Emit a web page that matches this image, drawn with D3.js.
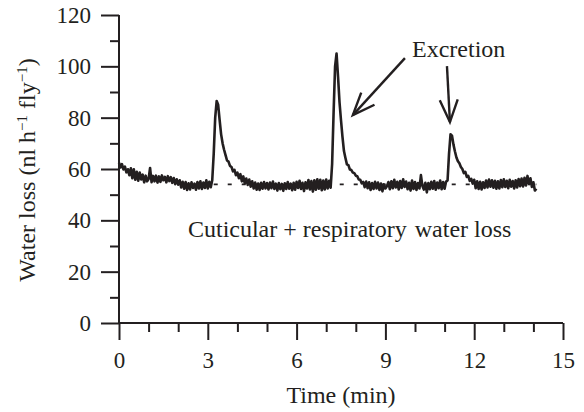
<!DOCTYPE html>
<html>
<head>
<meta charset="utf-8">
<script src="https://cdn.jsdelivr.net/npm/d3@7"></script>
<style>
  html, body { margin: 0; padding: 0; background: #fff; }
  svg { display: block; font-family: "Liberation Serif", "Times New Roman", serif; }
</style>
</head>
<body>
<svg id="chart" width="584" height="412"></svg>
<script>
// ---- data ----
const sampleStart = 0;      // min
const sampleStep = 0.05;    // min between samples
const waterLoss = [
  62.5,60.6,61.9,59.8,60.9,58.7,59.9,57.6,60.3,56.4,59.9,55.8,58.9,55.4,58.6,55.9,57.8,54.8,57.4,55.2,
  56.1,60.4,54.9,57.3,55.2,57.4,54.7,57.1,55.0,57.5,55.6,56.9,54.8,57.2,55.3,56.8,54.6,56.5,54.1,56.0,
  53.9,55.6,52.8,55.0,52.3,54.9,51.8,54.4,52.0,54.8,52.6,54.3,51.9,54.9,52.4,55.2,52.2,54.7,52.6,55.6,
  52.4,55.0,52.9,55.6,66.0,80.0,86.5,85.0,79.0,73.5,70.0,67.5,65.4,63.3,62.9,61.2,60.8,59.1,59.7,57.6,
  58.6,56.4,58.0,55.2,57.1,54.4,56.3,53.8,55.9,53.1,55.2,52.4,54.7,51.9,54.3,51.8,54.6,52.3,54.9,52.4,
  54.5,52.0,54.7,52.5,55.1,52.2,54.3,51.6,54.5,52.1,54.2,51.5,54.4,52.2,54.9,52.3,54.3,51.7,54.6,51.9,
  55.0,52.6,55.4,52.2,54.6,51.4,54.8,52.4,55.7,52.0,55.3,51.2,55.6,51.9,56.0,52.3,55.8,51.7,55.5,52.0,
  55.9,52.4,55.4,52.7,62.0,82.0,100.0,105.0,96.0,86.0,79.0,72.5,67.0,64.3,61.8,61.5,59.8,59.6,58.6,58.4,
  57.4,57.2,55.9,55.8,54.4,55.0,52.9,55.1,52.5,54.8,51.8,54.5,52.2,55.0,52.4,54.7,51.8,54.3,51.3,54.0,
  52.4,53.3,54.9,52.1,55.2,52.5,55.8,52.8,55.0,52.0,55.3,52.6,56.0,53.0,55.1,52.1,54.6,51.6,55.5,52.2,
  54.9,51.8,54.5,52.4,57.6,53.4,52.0,54.6,50.9,54.5,52.1,55.0,52.3,55.3,51.9,54.7,52.5,55.5,52.1,54.9,
  52.3,55.1,55.5,66.0,73.5,73.0,69.5,66.8,64.5,63.0,62.2,60.8,60.0,58.4,58.9,56.9,57.3,55.4,56.2,54.3,
  55.8,52.5,55.2,52.2,55.0,52.0,54.8,52.6,55.5,52.8,55.9,53.1,55.6,52.7,55.4,52.3,55.2,52.4,55.7,52.9,
  56.0,53.0,55.4,52.5,55.8,53.1,55.3,52.4,55.6,52.8,56.1,53.3,56.3,53.2,56.6,53.6,57.3,54.1,56.4,53.0,
  54.8,51.6,52.3
];
const baselineLevel = 54;          // dashed cuticular + respiratory level
const baselineRange = [3.2, 14.1]; // min
const xMajorTicks = [0, 3, 6, 9, 12, 15];
const xMinorTicks = [1, 2, 4, 5, 7, 8, 10, 11, 13, 14];
const yMajorTicks = [0, 20, 40, 60, 80, 100, 120];
const yMinorTicks = [10, 30, 50, 70, 90, 110];
const xTitle = "Time (min)";
const annotationText = "Excretion";
const baselineTextParts = ["Cuticular + respiratory", "water loss"];
// arrows: [tail time, tail value, tip time, tip value]
const arrows = [
  [9.66, 103.2, 7.90, 81.0],
  [11.08, 100.1, 11.18, 78.3]
];
const annotationPos = [9.9, 103.6];
const baselineTextPos = [2.33, 33.5];

// ---- layout ----
const ink = "#231f20";
const svg = d3.select("#chart");
const x = d3.scaleLinear().domain([0, 15]).range([119, 563]);
const y = d3.scaleLinear().domain([0, 120]).range([323, 15]);

const trace = waterLoss.map((v, i) => [sampleStart + i * sampleStep, v]);

// dashed baseline
svg.append("line")
  .attr("x1", x(baselineRange[0])).attr("x2", x(baselineRange[1]))
  .attr("y1", y(baselineLevel)).attr("y2", y(baselineLevel))
  .attr("stroke", ink).attr("stroke-width", 1.6)
  .attr("stroke-dasharray", "4,10");

// trace
svg.append("path")
  .datum(trace)
  .attr("d", d3.line().x(d => x(d[0])).y(d => y(d[1])))
  .attr("fill", "none").attr("stroke", ink)
  .attr("stroke-width", 2.6).attr("stroke-linejoin", "round");

// axes
function styleAxis(g) {
  g.select(".domain").remove();
  g.selectAll(".tick line").attr("stroke", ink).attr("stroke-width", 2);
  g.selectAll(".tick text").attr("fill", ink).style("font-size", "23px")
    .style("font-family", "'Liberation Serif', 'Times New Roman', serif");
}
svg.append("g").attr("transform", `translate(0,${y(0)})`)
  .call(d3.axisBottom(x).tickValues(xMinorTicks).tickSize(9).tickFormat(""))
  .call(styleAxis);
svg.append("g").attr("transform", `translate(0,${y(0)})`)
  .call(d3.axisBottom(x).tickValues(xMajorTicks).tickSize(17).tickPadding(12).tickFormat(d3.format("d")))
  .call(styleAxis);
svg.append("g").attr("transform", `translate(${x(0)},0)`)
  .call(d3.axisLeft(y).tickValues(yMinorTicks).tickSize(9).tickFormat(""))
  .call(styleAxis);
svg.append("g").attr("transform", `translate(${x(0)},0)`)
  .call(d3.axisLeft(y).tickValues(yMajorTicks).tickSize(18).tickPadding(10).tickFormat(d3.format("d")))
  .call(styleAxis);

// axis lines
svg.append("line").attr("x1", x(0)).attr("x2", x(15)).attr("y1", y(0)).attr("y2", y(0))
  .attr("stroke", ink).attr("stroke-width", 2);
svg.append("line").attr("x1", x(0)).attr("x2", x(0)).attr("y1", y(0)).attr("y2", y(120))
  .attr("stroke", ink).attr("stroke-width", 2);

// axis titles
svg.append("text").attr("x", (x(0) + x(15)) / 2).attr("y", 403)
  .attr("text-anchor", "middle").attr("fill", ink).style("font-size", "24px")
  .text(xTitle);

const yt = svg.append("text")
  .attr("transform", `translate(35,${(y(0) + y(120)) / 2 + 1}) rotate(-90)`)
  .attr("text-anchor", "middle").attr("fill", ink).style("font-size", "24px");
yt.append("tspan").text("Water loss (nl h");
yt.append("tspan").attr("dy", -8).style("font-size", "15px").text("\u22121");
yt.append("tspan").attr("dy", 8).text(" fly");
yt.append("tspan").attr("dy", -8).style("font-size", "15px").text("\u22121");
yt.append("tspan").attr("dy", 8).text(")");

// annotations
svg.append("text").attr("x", x(annotationPos[0])).attr("y", y(annotationPos[1]))
  .attr("fill", ink).style("font-size", "24px").text(annotationText);
const bt = svg.append("text").attr("x", x(baselineTextPos[0])).attr("y", y(baselineTextPos[1]))
  .attr("fill", ink).style("font-size", "24px");
bt.append("tspan").text(baselineTextParts[0] + " ");
bt.append("tspan").attr("dx", 2).text(baselineTextParts[1]);

const headLen = 24, headAng = 22 * Math.PI / 180;
arrows.forEach(a => {
  const x1 = x(a[0]), y1 = y(a[1]), x2 = x(a[2]), y2 = y(a[3]);
  const ang = Math.atan2(y1 - y2, x1 - x2);
  const g = svg.append("g").attr("stroke", ink).attr("stroke-width", 2.4)
    .attr("fill", "none").attr("stroke-linecap", "butt");
  g.append("line").attr("x1", x1).attr("y1", y1).attr("x2", x2).attr("y2", y2);
  g.append("path").attr("d", d3.line()([
    [x2 + headLen * Math.cos(ang + headAng), y2 + headLen * Math.sin(ang + headAng)],
    [x2, y2],
    [x2 + headLen * Math.cos(ang - headAng), y2 + headLen * Math.sin(ang - headAng)]
  ])).attr("stroke-linejoin", "miter");
});
</script>
</body>
</html>
